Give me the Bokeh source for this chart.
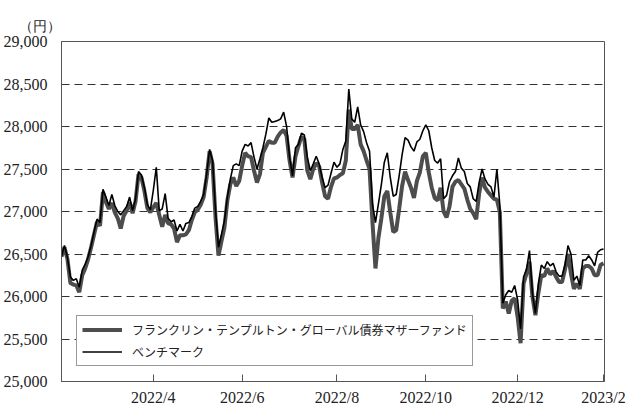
from bokeh.plotting import figure
from bokeh.models import Range1d, FixedTicker, Legend, LegendItem
from bokeh.embed import file_html
from bokeh.resources import INLINE

# --- data (~every 3rd trading day) ---
fund = [26470, 26580, 26440, 26160, 26140, 26130, 26050, 26250, 26330, 26440,
        26580, 26730, 26880, 26830, 27230, 27110, 27030, 27100, 26990, 26920,
        26800, 26950, 27010, 27110, 26980, 27120, 27440, 27400, 27240, 27040,
        26990, 27050, 27100, 26960, 26820, 26960, 26860, 26850, 26800, 26640,
        26720, 26720, 26730, 26780, 26900, 26990, 27020, 27080, 27170, 27400,
        27710, 27560, 26930, 26480, 26650, 26810, 27130, 27320, 27400, 27300,
        27360, 27540, 27690, 27650, 27640, 27480, 27340, 27440, 27690, 27760,
        27830, 27810, 27810, 27880, 27930, 27960, 27890, 27600, 27400, 27650,
        27770, 27880, 27850, 27480, 27380, 27500, 27570, 27530, 27340, 27180,
        27150, 27290, 27390, 27400, 27430, 27450, 27600, 28200, 27970, 27970,
        28020, 27790, 27710, 27600, 27500, 26870, 26330, 26690, 26920, 27180,
        27240, 26990, 26760, 26780, 27030, 27300, 27470, 27370, 27280, 27160,
        27360, 27460, 27650, 27690, 27460, 27280, 27160, 27130, 27280, 27000,
        26930, 27060, 27290, 27350, 27370, 27320, 27270, 27140, 27030, 26980,
        26910, 27210, 27400, 27280, 27230, 27190, 27150, 27140, 26990, 25860,
        25940, 25800, 25950, 25980, 25760, 25450, 26150, 26270, 26410, 26000,
        25780, 26040, 26250, 26240, 26330, 26260, 26300, 26230, 26170, 26170,
        26320, 26500, 26270, 26090, 26150, 26090, 26330, 26360, 26360, 26330,
        26250, 26250, 26370, 26390]

bench = [26470, 26600, 26460, 26230, 26190, 26210, 26110, 26310, 26380, 26470,
         26600, 26760, 26910, 26870, 27260, 27170, 27070, 27200, 27070, 27000,
         26960, 27010, 27060, 27170, 27010, 27150, 27470, 27430, 27280, 27080,
         27020, 27250, 27520, 27010, 27030, 27210, 26920, 26880, 26900, 26770,
         26850, 26770, 26860, 26870, 26940, 27040, 27060, 27120, 27200, 27440,
         27730, 27600, 27010, 26580, 26730, 26890, 27170, 27380, 27540, 27560,
         27540, 27710, 27790, 27770, 27810, 27640, 27500, 27620, 27750, 27910,
         28100, 28050, 28060, 28070, 28090, 28170, 28000, 27640, 27420, 27750,
         27790, 27920, 27900, 27640, 27480, 27560, 27650, 27560, 27400, 27280,
         27310, 27450, 27580, 27520, 27560, 27730, 27830, 28440, 28090, 28050,
         28230, 28020, 27940, 27810, 27710, 27090, 26870, 27090, 27320, 27580,
         27690, 27400, 27180, 27200, 27420, 27670, 27870, 27840, 27760, 27710,
         27820, 27850, 27950, 28020, 27950, 27750, 27600, 27570, 27620, 27150,
         27190, 27350, 27420, 27470, 27630, 27510, 27470, 27330, 27290, 27150,
         27120, 27340, 27500, 27380, 27320, 27290, 27170, 27500, 27070, 25920,
         26020, 26070, 26050, 26130, 25960, 25620, 26230, 26320, 26540, 26040,
         25800, 26150, 26370, 26330, 26410, 26360, 26390, 26290, 26240, 26240,
         26370, 26600, 26500, 26190, 26240, 26130, 26430, 26430, 26480, 26430,
         26360, 26520, 26550, 26560]

x_tick_index = [31, 61, 93, 123, 154, 183]
x_tick_labels = ["2022/4", "2022/6", "2022/8", "2022/10", "2022/12", "2023/2"]

y_ticks = [25000, 25500, 26000, 26500, 27000, 27500, 28000, 28500, 29000]
y_tick_labels = ["25,000", "25,500", "26,000", "26,500", "27,000", "27,500",
                 "28,000", "28,500", "29,000"]

fund_name = "フランクリン・テンプルトン・グローバル債券マザーファンド"
bench_name = "ベンチマーク"
unit_label = "（円）"

x = list(range(len(fund)))

p = figure(width=626, height=408, output_backend="svg", toolbar_location=None,
           x_range=Range1d(0, 183.33), y_range=Range1d(y_ticks[0], y_ticks[-1]),
           min_border_left=54, min_border_right=22, min_border_top=41,
           min_border_bottom=26)

p.background_fill_color = "white"
p.border_fill_color = "white"
p.outline_line_color = "#555555"
p.outline_line_width = 1

# title as unit label
p.title.text = unit_label
p.title.align = "left"
p.title.offset = -43
p.title.standoff = 15
p.title.text_font = "Liberation Serif"
p.title.text_font_size = "14px"
p.title.text_font_style = "normal"
p.title.text_color = "#222222"

# grid
p.xgrid.visible = False
p.ygrid.ticker = FixedTicker(ticks=y_ticks)
p.ygrid.grid_line_color = "#333333"
p.ygrid.grid_line_dash = "8 5"
p.ygrid.grid_line_width = 1

# axes
p.yaxis.ticker = FixedTicker(ticks=y_ticks)
p.yaxis.major_label_overrides = dict(zip(y_ticks, y_tick_labels))
p.yaxis.minor_tick_line_color = None
p.yaxis.major_label_standoff = 8

p.xaxis.ticker = FixedTicker(ticks=x_tick_index)
p.xaxis.major_label_overrides = dict(zip(x_tick_index, x_tick_labels))
p.xaxis.major_tick_in = 7
p.xaxis.major_tick_out = 0
p.xaxis.minor_tick_line_color = None
p.xaxis.major_label_standoff = 7

for ax in (p.xaxis, p.yaxis):
    ax.axis_line_color = "#555555"
    ax.major_label_text_font = "Liberation Serif"
    ax.major_label_text_font_size = "16px"
    ax.major_label_text_color = "#222222"
p.xaxis.major_tick_line_color = "#555555"
p.yaxis.major_tick_line_color = None

r_fund = p.line(x, fund, line_width=4, line_color="#4d4d4d")
r_bench = p.line(x, bench, line_width=1.6, line_color="black")

legend = Legend(items=[LegendItem(label=fund_name, renderers=[r_fund]),
                       LegendItem(label=bench_name, renderers=[r_bench])],
                location="bottom_left", margin=15, padding=5, spacing=5,
                glyph_width=40, glyph_height=17, label_height=17,
                label_standoff=10,
                label_text_font="Noto Sans CJK JP", label_text_font_size="12px",
                label_text_color="#222222",
                border_line_color="#333333", border_line_width=1,
                background_fill_color="white", background_fill_alpha=1)
p.add_layout(legend)

open("out.html", "w").write(file_html(p, INLINE))
